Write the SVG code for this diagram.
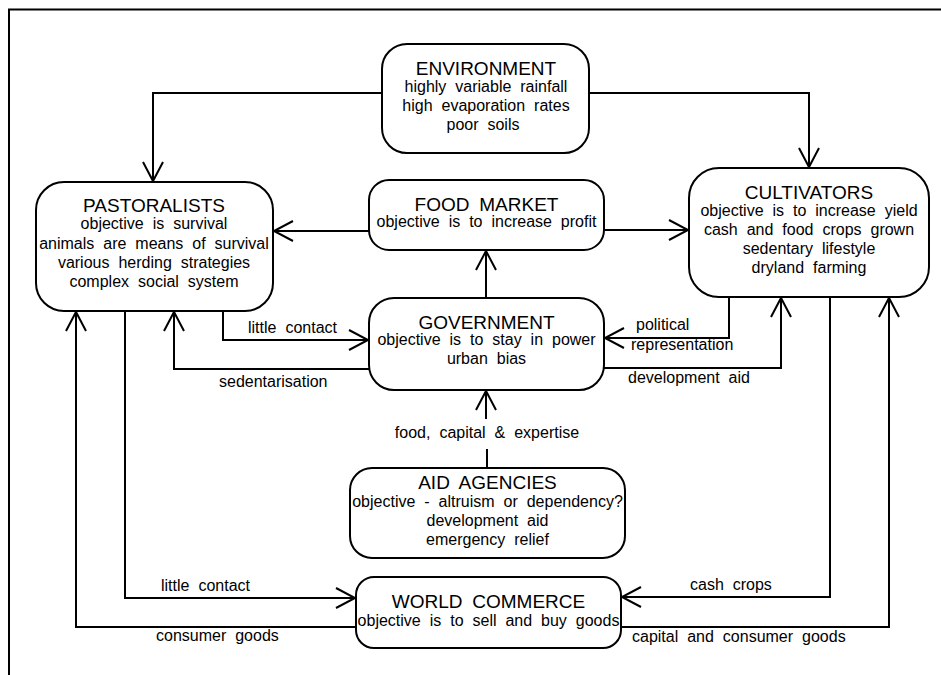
<svg xmlns="http://www.w3.org/2000/svg" width="941" height="675" viewBox="0 0 941 675">
<style>
.box{fill:#fff;stroke:#000;stroke-width:2}
.t{font-family:"Liberation Sans",Arial,sans-serif;fill:#000;word-spacing:4.5px}
.h{font-size:19px;text-anchor:middle}
.b{font-size:16px;text-anchor:middle}
.l{font-size:16px}
.c{fill:none;stroke:#000;stroke-width:2;marker-end:url(#arr)}
.p{fill:none;stroke:#000;stroke-width:2}
</style>
<defs>
<marker id="arr" markerUnits="userSpaceOnUse" orient="auto" refX="0" refY="0" markerWidth="30" markerHeight="30" viewBox="-25 -15 30 30" overflow="visible">
<path d="M-19,-10 L0,0 L-19,10" fill="none" stroke="#000" stroke-width="2"/>
</marker>
</defs>
<rect width="941" height="675" fill="#fff"/>
<path d="M9,675 V9.5 H941" class="p"/>

<g id="connectors">
<path class="c" d="M382,93 H153 V181"/>
<path class="c" d="M589,93 H809 V167"/>
<path class="c" d="M369,231 H274"/>
<path class="c" d="M604,230 H688"/>
<path class="c" d="M486,298 V251"/>
<path class="c" d="M223,311 V340 H368"/>
<path class="c" d="M369,369 H174 V312"/>
<path class="c" d="M729,297 V338 H605"/>
<path class="c" d="M604,368 H781 V298"/>
<path class="p" d="M487,468 V449"/>
<path class="c" d="M486,419 V391"/>
<path class="c" d="M125,311 V598 H355"/>
<path class="c" d="M356,627 H76 V312"/>
<path class="c" d="M830,297 V597 H622"/>
<path class="c" d="M621,627 H889 V298"/>
<text class="t l" x="248" y="333">little contact</text>
<text class="t l" x="219" y="387">sedentarisation</text>
<text class="t l" x="636" y="330">political</text>
<text class="t l" x="631" y="350">representation</text>
<text class="t l" x="628" y="383">development aid</text>
<text class="t b" x="487" y="438">food, capital &amp; expertise</text>
<text class="t l" x="161" y="591">little contact</text>
<text class="t l" x="156" y="641">consumer goods</text>
<text class="t l" x="690" y="590">cash crops</text>
<text class="t l" x="632" y="642">capital and consumer goods</text>
</g>

<g id="environment">
<rect class="box" x="382" y="44" width="207" height="109" rx="25"/>
<text class="t h" x="486" y="75">ENVIRONMENT</text>
<text class="t b" x="486" y="92">highly variable rainfall</text>
<text class="t b" x="486" y="111">high evaporation rates</text>
<text class="t b" x="483" y="130">poor soils</text>
</g>

<g id="pastoralists">
<rect class="box" x="36" y="182" width="237" height="129" rx="28"/>
<text class="t h" x="154" y="212">PASTORALISTS</text>
<text class="t b" x="154" y="229">objective is survival</text>
<text class="t b" x="154" y="249">animals are means of survival</text>
<text class="t b" x="154" y="268">various herding strategies</text>
<text class="t b" x="154" y="287">complex social system</text>
</g>

<g id="food-market">
<rect class="box" x="369" y="180" width="235" height="70" rx="20"/>
<text class="t h" x="486.5" y="211">FOOD MARKET</text>
<text class="t b" x="486.5" y="227">objective is to increase profit</text>
</g>

<g id="cultivators">
<rect class="box" x="689" y="168" width="240" height="129" rx="30"/>
<text class="t h" x="809" y="199">CULTIVATORS</text>
<text class="t b" x="809" y="216">objective is to increase yield</text>
<text class="t b" x="809" y="235">cash and food crops grown</text>
<text class="t b" x="809" y="254">sedentary lifestyle</text>
<text class="t b" x="809" y="273">dryland farming</text>
</g>

<g id="government">
<rect class="box" x="369" y="298" width="235" height="92" rx="25"/>
<text class="t h" x="486.5" y="329">GOVERNMENT</text>
<text class="t b" x="486.5" y="345">objective is to stay in power</text>
<text class="t b" x="486.5" y="364">urban bias</text>
</g>

<g id="aid-agencies">
<rect class="box" x="350" y="468" width="275" height="90" rx="22"/>
<text class="t h" x="487.5" y="489">AID AGENCIES</text>
<text class="t b" x="487.5" y="507">objective - altruism or dependency?</text>
<text class="t b" x="487.5" y="526">development aid</text>
<text class="t b" x="487.5" y="545">emergency relief</text>
</g>

<g id="world-commerce">
<rect class="box" x="356" y="577" width="265" height="71" rx="18"/>
<text class="t h" x="488.5" y="608">WORLD COMMERCE</text>
<text class="t b" x="488.5" y="626">objective is to sell and buy goods</text>
</g>
</svg>
